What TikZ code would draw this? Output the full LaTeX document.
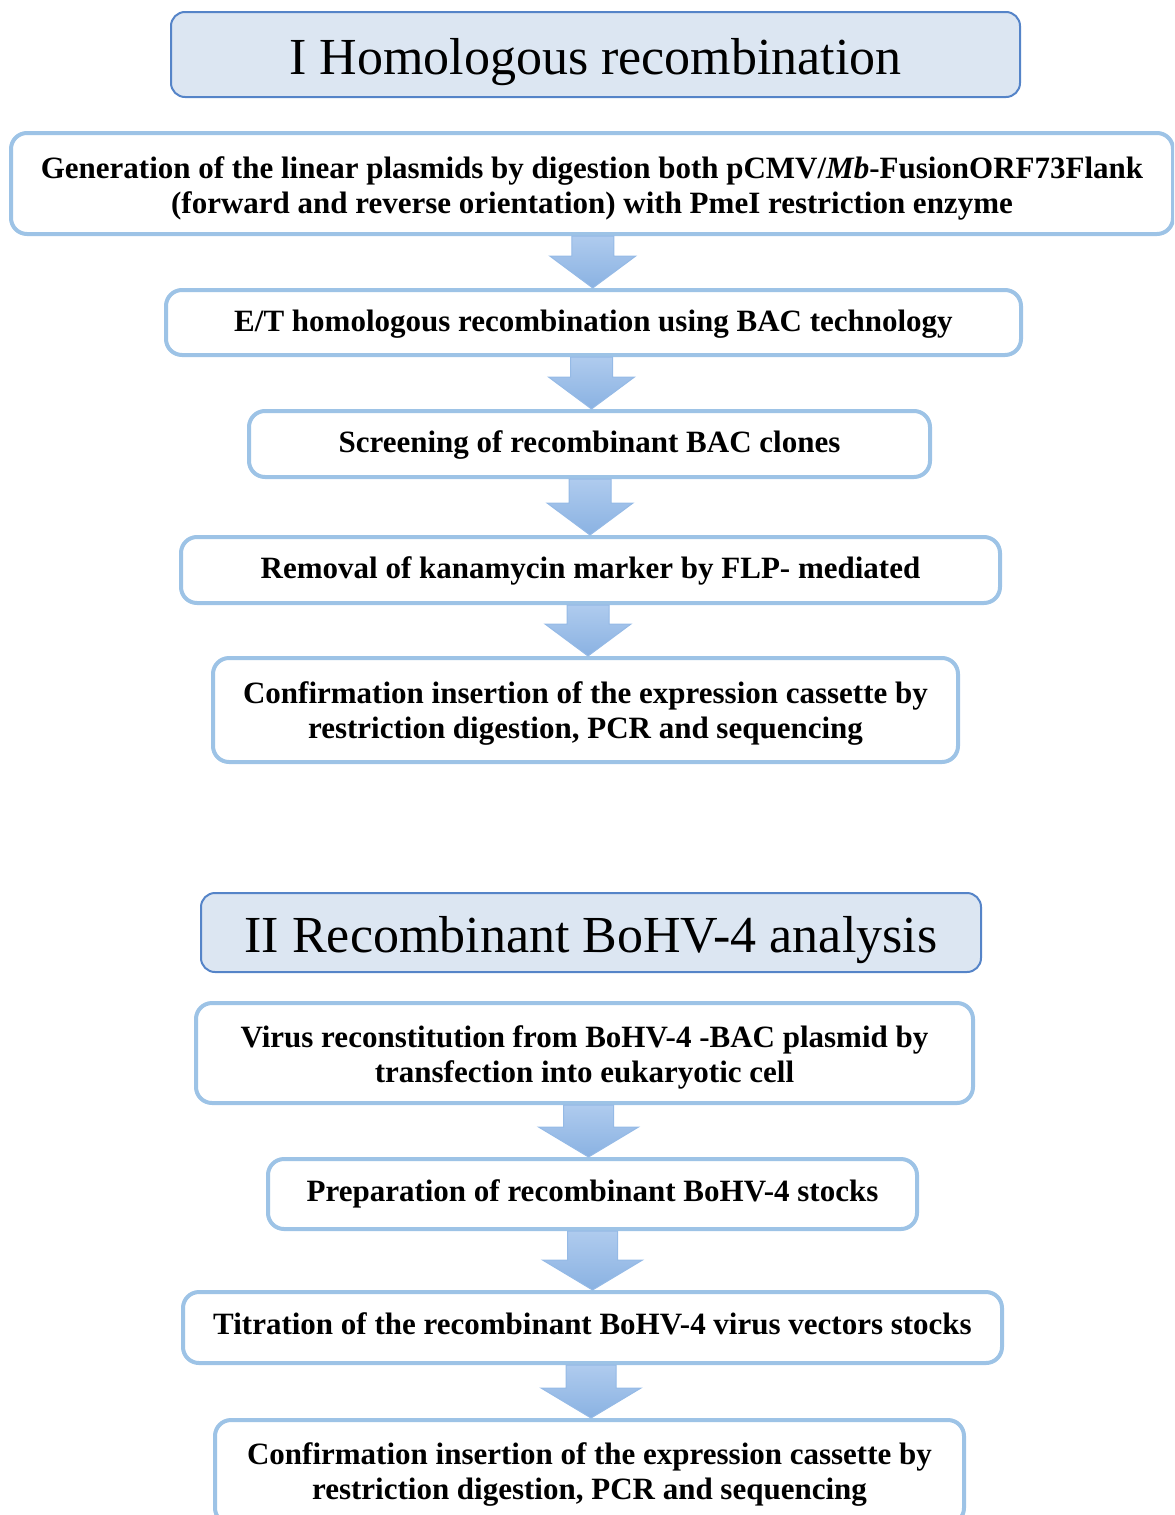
\documentclass[tikz,border=0pt]{standalone}
\usepackage{fontspec}
\setmainfont{Liberation Serif}
\usetikzlibrary{calc}
\definecolor{titlefill}{HTML}{DCE6F2}
\definecolor{titleborder}{HTML}{5584C8}
\definecolor{stepborder}{HTML}{9DC3E6}
\definecolor{arrowtop}{HTML}{AFCBEE}
\definecolor{arrowbot}{HTML}{8AB2E2}
\definecolor{arrowedge}{HTML}{95BAE6}
% #1 from, #2 to, #3 shaft half width, #4 head half width, #5 head length
\newcommand\blockarrow[5]{%
  \path[draw=arrowedge, line width=0.5pt, top color=arrowtop, bottom color=arrowbot]
    let \p1=(#1.south), \p2=(#2.north), \p3=($(\p1)!0.5!(\p2)$) in
    (\x3-#3,\y1) -- (\x3+#3,\y1) -- (\x3+#3,\y2+#5) -- (\x3+#4,\y2+#5)
    -- (\x3,\y2) -- (\x3-#4,\y2+#5) -- (\x3-#3,\y2+#5) -- cycle;}
% move text down by #1 without changing its box
\newcommand\dn[2]{\raisebox{-#1}[\height][\depth]{#2}}
\begin{document}
\begin{tikzpicture}[x=0.5pt,y=-0.5pt,
  titlebox/.style={draw=titleborder, fill=titlefill, line width=1pt, rounded corners=7pt,
    inner sep=0pt, text depth=0pt, font=\fontsize{26}{30}\selectfont},
  stepbox/.style={draw=stepborder, fill=white, line width=2pt, rounded corners=8pt,
    inner sep=0pt, align=center, font=\fontsize{15.5}{17.5}\selectfont\bfseries}]
\useasboundingbox (0,0) rectangle (1174,1515);
\clip (0,0) rectangle (1174,1515);

\node[titlebox, minimum width=424.5pt, minimum height=42.5pt] (t1) at (595.5,54.5) {\dn{1pt}{I Homologous recombination}};
\node[stepbox, minimum width=581pt, minimum height=50.5pt] (a) at (592,183.5)
  {\dn{2.5pt}{\begin{tabular}{@{}c@{}}Generation of the linear plasmids by digestion both pCMV/\textit{Mb}-FusionORF73Flank\\(forward and reverse orientation) with PmeI restriction enzyme\end{tabular}}};
\node[stepbox, minimum width=427.5pt, minimum height=32.5pt] (b) at (593.5,322.5)
  {\dn{1pt}{E/T homologous recombination using BAC technology}};
\node[stepbox, minimum width=340.5pt, minimum height=33pt] (c) at (589.5,444)
  {\dn{0.5pt}{Screening of recombinant BAC clones}};
\node[stepbox, minimum width=409.5pt, minimum height=33pt] (d) at (590.5,570)
  {\dn{0.5pt}{Removal of kanamycin marker by FLP- mediated}};
\node[stepbox, minimum width=372.5pt, minimum height=52pt] (e) at (585.5,710)
  {\dn{1.75pt}{\begin{tabular}{@{}c@{}}Confirmation insertion of the expression cassette by\\restriction digestion, PCR and sequencing\end{tabular}}};

\node[titlebox, minimum width=390pt, minimum height=39.5pt] (t2) at (591,932.5) {\dn{1pt}{II Recombinant BoHV-4 analysis}};
\node[stepbox, minimum width=388.5pt, minimum height=50pt] (f) at (584.5,1053)
  {\dn{2.5pt}{\begin{tabular}{@{}c@{}}Virus reconstitution from BoHV-4 -BAC plasmid by\\transfection into eukaryotic cell\end{tabular}}};
\node[stepbox, minimum width=324.5pt, minimum height=35pt] (g) at (592.5,1194)
  {Preparation of recombinant BoHV-4 stocks};
\node[stepbox, minimum width=409.5pt, minimum height=35.5pt] (h) at (592.5,1327.5)
  {\dn{-2pt}{Titration of the recombinant BoHV-4 virus vectors stocks}};
\node[stepbox, minimum width=374.5pt, minimum height=52pt] (i) at (589.5,1472)
  {\dn{1.5pt}{\begin{tabular}{@{}c@{}}Confirmation insertion of the expression cassette by\\restriction digestion, PCR and sequencing\end{tabular}}};

\blockarrow{a}{b}{10.5pt}{21.5pt}{16pt}
\blockarrow{b}{c}{10.5pt}{21.5pt}{16pt}
\blockarrow{c}{d}{10.5pt}{21.5pt}{16pt}
\blockarrow{d}{e}{10.5pt}{21.5pt}{16pt}
\blockarrow{f}{g}{12.5pt}{25pt}{15pt}
\blockarrow{g}{h}{12.5pt}{25pt}{15pt}
\blockarrow{h}{i}{12.5pt}{25pt}{15pt}
\end{tikzpicture}
\end{document}
